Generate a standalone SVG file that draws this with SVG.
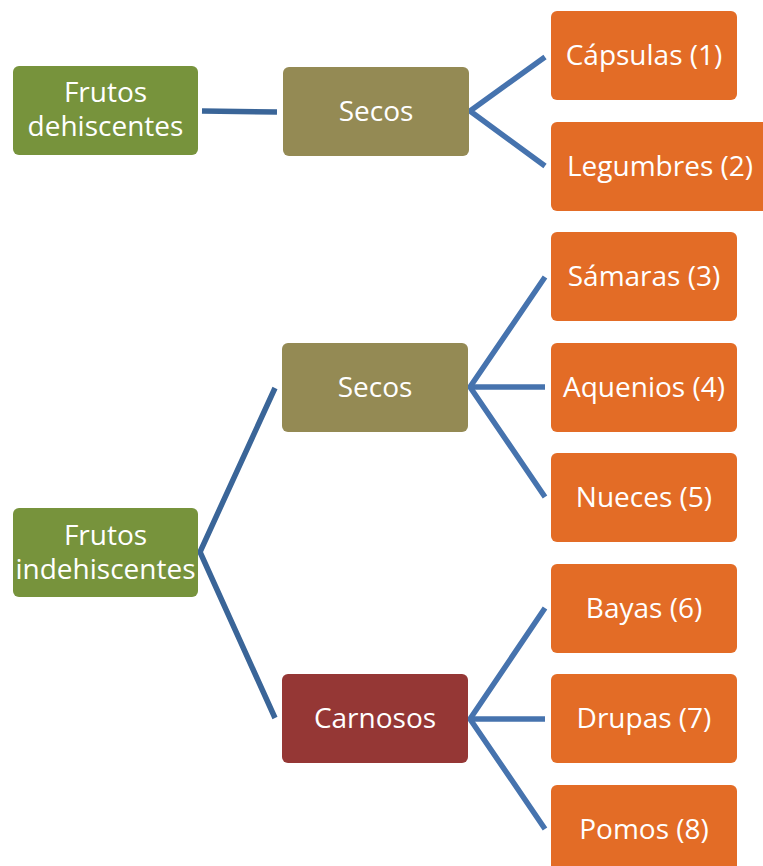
<svg xmlns="http://www.w3.org/2000/svg" width="763" height="866" viewBox="0 0 763 866">
  <style>
    .box { stroke: none; }
    .root { fill: #77933C; }
    .dry { fill: #948A54; }
    .fleshy { fill: #953735; }
    .leaf { fill: #E36C26; }
    .lbl { font-family: "Open Sans", "Noto Sans", sans-serif; font-size: 28px; fill: #FFFFFF; text-anchor: middle; }
    .link { fill: none; stroke-width: 5.5; stroke-linecap: butt; stroke-linejoin: miter; stroke-miterlimit: 10; }
    .dark { stroke: #3A6598; }
    .light { stroke: #4673AE; }
  </style>

  <rect width="763" height="866" fill="#FFFFFF"/>

  <!-- connectors -->
  <g id="connectors">
    <line class="link dark" x1="202" y1="111" x2="277" y2="112"/>
    <polyline class="link light" points="545,57 470,111 545,166"/>

    <polyline class="link dark" points="275,388 200,552 275,718"/>

    <polyline class="link light" points="545,277 470,387 545,497"/>
    <line class="link light" x1="470" y1="387" x2="545" y2="387"/>

    <polyline class="link light" points="545,608 470,719 545,829"/>
    <line class="link light" x1="470" y1="719" x2="545" y2="719"/>
  </g>

  <!-- dehiscent branch -->
  <g id="frutos-dehiscentes">
    <rect class="box root" x="13" y="66" width="185" height="89" rx="6"/>
    <text class="lbl" x="105.5" y="102"><tspan x="105.5">Frutos</tspan><tspan x="105.5" dy="34">dehiscentes</tspan></text>
  </g>
  <g id="secos-dehiscentes">
    <rect class="box dry" x="283" y="67" width="186" height="89" rx="6"/>
    <text class="lbl" x="376" y="121">Secos</text>
  </g>
  <g id="capsulas">
    <rect class="box leaf" x="551" y="11" width="186" height="89" rx="6"/>
    <text class="lbl" x="644" y="65">Cápsulas (1)</text>
  </g>
  <g id="legumbres">
    <rect class="box leaf" x="551" y="122" width="218" height="89" rx="6"/>
    <text class="lbl" x="660" y="176">Legumbres (2)</text>
  </g>

  <!-- indehiscent branch -->
  <g id="frutos-indehiscentes">
    <rect class="box root" x="13" y="508" width="185" height="89" rx="6"/>
    <text class="lbl" x="105.5" y="545"><tspan x="105.5">Frutos</tspan><tspan x="105.5" dy="34">indehiscentes</tspan></text>
  </g>
  <g id="secos-indehiscentes">
    <rect class="box dry" x="282" y="343" width="186" height="89" rx="6"/>
    <text class="lbl" x="375" y="397">Secos</text>
  </g>
  <g id="carnosos">
    <rect class="box fleshy" x="282" y="674" width="186" height="89" rx="6"/>
    <text class="lbl" x="375" y="728">Carnosos</text>
  </g>
  <g id="samaras">
    <rect class="box leaf" x="551" y="232" width="186" height="89" rx="6"/>
    <text class="lbl" x="644" y="286">Sámaras (3)</text>
  </g>
  <g id="aquenios">
    <rect class="box leaf" x="551" y="343" width="186" height="89" rx="6"/>
    <text class="lbl" x="644" y="397">Aquenios (4)</text>
  </g>
  <g id="nueces">
    <rect class="box leaf" x="551" y="453" width="186" height="89" rx="6"/>
    <text class="lbl" x="644" y="507">Nueces (5)</text>
  </g>
  <g id="bayas">
    <rect class="box leaf" x="551" y="564" width="186" height="89" rx="6"/>
    <text class="lbl" x="644" y="618">Bayas (6)</text>
  </g>
  <g id="drupas">
    <rect class="box leaf" x="551" y="674" width="186" height="89" rx="6"/>
    <text class="lbl" x="644" y="728">Drupas (7)</text>
  </g>
  <g id="pomos">
    <rect class="box leaf" x="551" y="785" width="186" height="89" rx="6"/>
    <text class="lbl" x="644" y="839">Pomos (8)</text>
  </g>
</svg>
